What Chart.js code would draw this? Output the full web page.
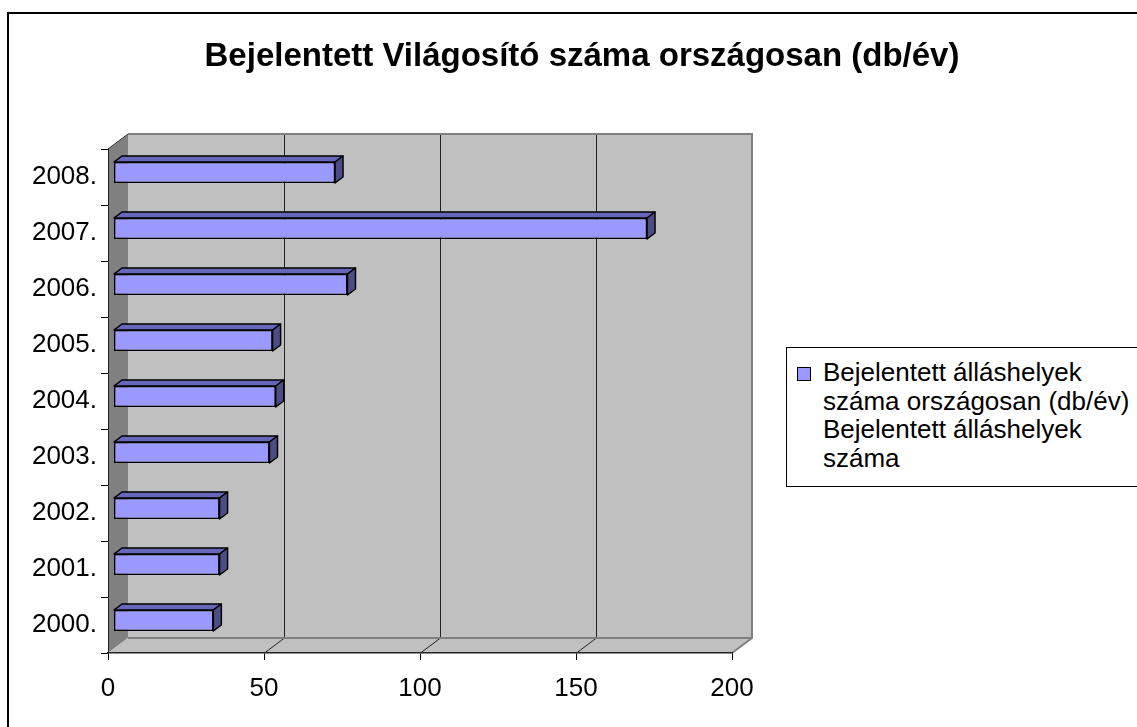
<!DOCTYPE html>
<html>
<head>
<meta charset="utf-8">
<script src="https://cdn.jsdelivr.net/npm/chart.js@4.4.1/dist/chart.umd.min.js"></script>
<style>
  body { margin: 0; background: #fff; overflow: hidden; font-family: Arial, "Liberation Sans", sans-serif; }
  #frame { position: absolute; left: 7px; top: 12px; width: 1300px; height: 900px; border: 2px solid #000; }
  #title { position: absolute; left: 0; top: 36px; width: 1164px; text-align: center; font-weight: bold; font-size: 33px; color: #000; white-space: nowrap; }
  #legend { position: absolute; left: 786px; top: 347px; width: 400px; height: 138px; border: 1px solid #000; background: #fff; }
  #legend .sw { position: absolute; left: 10px; top: 19px; width: 12px; height: 12px; background: #9999FF; border: 1px solid #000; }
  #legend .txt { position: absolute; left: 36px; top: 10px; font-size: 26px; line-height: 28.5px; color: #000; white-space: nowrap; }
  canvas { position: absolute; left: 0; top: 0; }
</style>
</head>
<body>
<div id="frame"></div>
<canvas id="chart" width="1137" height="727"></canvas>
<div id="title"></div>
<div id="legend"><div class="sw"></div><div class="txt"></div></div>
<script>
const titleText = 'Bejelentett Világosító száma országosan (db/év)';
const years = ['2000.', '2001.', '2002.', '2003.', '2004.', '2005.', '2006.', '2007.', '2008.'];
const counts = [32, 34, 34, 50, 52, 51, 75, 171, 71];
const seriesLines = ['Bejelentett álláshelyek', 'száma országosan (db/év)', 'Bejelentett álláshelyek', 'száma'];
const xTicks = [0, 50, 100, 150, 200];

document.getElementById('title').textContent = titleText;
document.querySelector('#legend .txt').innerHTML = seriesLines.join('<br>');

// 3d offsets: back wall and bars
const depthX = 20, depthY = 15;
const barShiftX = 5.5, barShiftY = -4.5;
const barDX = 8, barDY = 6;

const wallsPlugin = {
  id: 'walls',
  beforeDraw(chart) {
    const ctx = chart.ctx;
    const a = chart.chartArea;
    const xs = chart.scales.x;
    ctx.save();
    // left wall
    ctx.fillStyle = '#808080';
    ctx.beginPath();
    ctx.moveTo(a.left, a.bottom);
    ctx.lineTo(a.left + depthX, a.bottom - depthY);
    ctx.lineTo(a.left + depthX, a.top - depthY);
    ctx.lineTo(a.left, a.top);
    ctx.closePath();
    ctx.fill();
    ctx.strokeStyle = '#333';
    ctx.lineWidth = 1;
    ctx.beginPath();
    ctx.moveTo(a.left, a.top);
    ctx.lineTo(a.left + depthX, a.top - depthY);
    ctx.stroke();
    // back wall
    ctx.fillStyle = '#C0C0C0';
    ctx.fillRect(a.left + depthX, a.top - depthY, a.right - a.left, a.bottom - a.top);
    // floor
    ctx.beginPath();
    ctx.moveTo(a.left, a.bottom);
    ctx.lineTo(a.right, a.bottom);
    ctx.lineTo(a.right + depthX, a.bottom - depthY);
    ctx.lineTo(a.left + depthX, a.bottom - depthY);
    ctx.closePath();
    ctx.fill();
    // gridlines on back wall + floor
    ctx.strokeStyle = '#222';
    ctx.lineWidth = 1;
    xTicks.slice(1, -1).forEach(v => {
      const px = Math.round(xs.getPixelForValue(v)) + 0.5;
      ctx.beginPath();
      ctx.moveTo(px + depthX, a.top - depthY);
      ctx.lineTo(px + depthX, a.bottom - depthY);
      ctx.lineTo(px, a.bottom);
      ctx.stroke();
    });
    // wall edges
    ctx.strokeStyle = '#808080';
    ctx.lineWidth = 2;
    ctx.beginPath();
    ctx.moveTo(a.left + depthX, a.top - depthY);
    ctx.lineTo(a.right + depthX, a.top - depthY);
    ctx.lineTo(a.right + depthX, a.bottom - depthY);
    ctx.lineTo(a.right, a.bottom);
    ctx.moveTo(a.left + depthX, a.bottom - depthY);
    ctx.lineTo(a.right + depthX, a.bottom - depthY);
    ctx.stroke();
    ctx.restore();
  },
  beforeDatasetsDraw(chart) {
    chart.ctx.save();
    chart.ctx.translate(barShiftX, barShiftY);
  },
  afterDatasetsDraw(chart) {
    const ctx = chart.ctx;
    chart.getDatasetMeta(0).data.forEach(bar => {
      const p = bar.getProps(['x', 'y', 'base', 'height'], true);
      const top = p.y - p.height / 2, bottom = p.y + p.height / 2;
      ctx.lineWidth = 1.5;
      ctx.strokeStyle = '#000';
      ctx.lineJoin = 'round';
      // top face
      ctx.fillStyle = '#6666BB';
      ctx.beginPath();
      ctx.moveTo(p.base, top);
      ctx.lineTo(p.x, top);
      ctx.lineTo(p.x + barDX, top - barDY);
      ctx.lineTo(p.base + barDX, top - barDY);
      ctx.closePath();
      ctx.fill();
      ctx.stroke();
      // side face
      ctx.fillStyle = '#4D4D85';
      ctx.beginPath();
      ctx.moveTo(p.x, top);
      ctx.lineTo(p.x + barDX, top - barDY);
      ctx.lineTo(p.x + barDX, bottom - barDY);
      ctx.lineTo(p.x, bottom);
      ctx.closePath();
      ctx.fill();
      ctx.stroke();
    });
    ctx.restore();
  }
};

const chart = new Chart(document.getElementById('chart'), {
  type: 'bar',
  data: {
    labels: years,
    datasets: [{
      label: seriesLines.join(' '),
      data: counts,
      backgroundColor: '#9999FF',
      borderColor: '#000',
      borderWidth: 1.5,
      borderSkipped: false,
      categoryPercentage: 1,
      barPercentage: 0.375
    }]
  },
  options: {
    indexAxis: 'y',
    responsive: false,
    animation: false,
    layout: { padding: { top: 149, right: 405, left: 0, bottom: 0 } },
    plugins: {
      legend: { display: false },
      title: { display: false },
      tooltip: { enabled: false }
    },
    scales: {
      x: {
        min: 0,
        max: 200,
        afterFit(scale) { scale.height = 74; },
        afterBuildTicks(scale) { scale.ticks = xTicks.map(v => ({ value: v })); },
        grid: { drawOnChartArea: false, drawTicks: true, tickLength: 7, color: '#000' },
        border: { display: true, color: '#222', width: 1.5 },
        ticks: { color: '#000', font: { family: 'Arial, "Liberation Sans"', size: 26 }, padding: 13, maxRotation: 0 }
      },
      y: {
        reverse: true,
        afterFit(scale) { scale.width = 108; },
        grid: { drawOnChartArea: false, drawTicks: true, tickLength: 7, color: '#000', offset: true },
        border: { display: true, color: '#222', width: 1 },
        ticks: { color: '#000', font: { family: 'Arial, "Liberation Sans"', size: 26 }, padding: 4 }
      }
    }
  },
  plugins: [wallsPlugin]
});
</script>
</body>
</html>
